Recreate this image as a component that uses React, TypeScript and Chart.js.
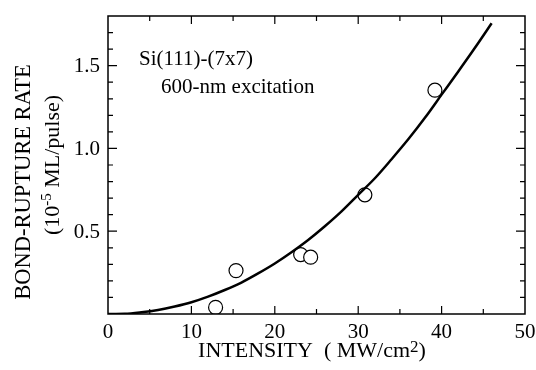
import React, { useEffect, useRef } from "react";
import { Chart, registerables } from "chart.js";

Chart.register(...registerables);

// Measured data points (intensity MW/cm^2, rate 10^-5 ML/pulse)
const pointX = [12.9, 15.35, 23.1, 24.3, 30.8, 39.2];
const pointY = [0.04, 0.262, 0.359, 0.343, 0.72, 1.352];

// Fitted curve
const curveX = [0, 2, 4, 6, 8, 10, 12, 14, 16, 18, 20, 22, 24, 26, 28, 30, 32, 34, 36, 38, 40, 42, 44, 46];
const curveY = [0, 0.001, 0.01, 0.024, 0.045, 0.071, 0.105, 0.145, 0.19, 0.245, 0.305, 0.373, 0.447, 0.53, 0.62, 0.72, 0.82, 0.935, 1.055, 1.185, 1.325, 1.465, 1.608, 1.756];

const xTickLabels = [0, 10, 20, 30, 40, 50];
const yTickLabels = [0.5, 1.0, 1.5];

const annotation1 = "Si(111)-(7x7)";
const annotation2 = "600-nm excitation";
const yTitle1 = "BOND-RUPTURE RATE";
const xTitle = "INTENSITY  ( MW/cm";

const SERIF = "'Liberation Serif', 'Times New Roman', serif";

const framePlugin = {
  id: "frame",
  afterDraw(chart: any) {
    const { ctx, chartArea: a, scales } = chart;
    const xs = scales.x;
    const ys = scales.y;
    ctx.save();
    ctx.strokeStyle = "#000";
    ctx.lineWidth = 1.5;
    ctx.strokeRect(a.left, a.top, a.right - a.left, a.bottom - a.top);
    ctx.lineWidth = 1.2;
    ctx.beginPath();
    for (let v = 5; v < 50; v += 5) {
      const px = xs.getPixelForValue(v);
      const len = v % 10 === 0 ? 8 : 5;
      ctx.moveTo(px, a.bottom);
      ctx.lineTo(px, a.bottom - len);
      ctx.moveTo(px, a.top);
      ctx.lineTo(px, a.top + len);
    }
    for (let i = 1; i < 18; i++) {
      const v = i / 10;
      const py = ys.getPixelForValue(v);
      const len = i % 5 === 0 ? 9 : 5;
      ctx.moveTo(a.left, py);
      ctx.lineTo(a.left + len, py);
      ctx.moveTo(a.right, py);
      ctx.lineTo(a.right - len, py);
    }
    ctx.stroke();

    ctx.fillStyle = "#000";
    // tick labels
    ctx.font = `21px ${SERIF}`;
    ctx.textAlign = "center";
    ctx.textBaseline = "alphabetic";
    for (const v of xTickLabels) {
      ctx.fillText(String(v), xs.getPixelForValue(v), a.bottom + 24);
    }
    ctx.textAlign = "right";
    ctx.textBaseline = "middle";
    for (const v of yTickLabels) {
      ctx.fillText(v.toFixed(1), a.left - 8, ys.getPixelForValue(v) + 1);
    }

    // annotations
    ctx.font = `21px ${SERIF}`;
    ctx.textAlign = "left";
    ctx.textBaseline = "alphabetic";
    ctx.fillText(annotation1, 139, 65);
    ctx.fillText(annotation2, 161, 93);

    // x title with superscript
    ctx.font = `22px ${SERIF}`;
    const w1 = ctx.measureText(xTitle).width;
    ctx.font = `17px ${SERIF}`;
    const w2 = ctx.measureText("2").width;
    ctx.font = `22px ${SERIF}`;
    const w3 = ctx.measureText(")").width;
    const total = w1 + w2 + w3;
    let sx = 312 - total / 2;
    const by = 357;
    ctx.fillText(xTitle, sx, by);
    sx += w1;
    ctx.font = `17px ${SERIF}`;
    ctx.fillText("2", sx, by - 5);
    sx += w2;
    ctx.font = `22px ${SERIF}`;
    ctx.fillText(")", sx, by);

    // y titles (rotated)
    ctx.save();
    ctx.translate(30, 182);
    ctx.rotate(-Math.PI / 2);
    ctx.font = `22.5px ${SERIF}`;
    ctx.textAlign = "center";
    ctx.fillText(yTitle1, 0, 0);
    ctx.restore();

    ctx.save();
    ctx.translate(59, 165);
    ctx.rotate(-Math.PI / 2);
    ctx.textAlign = "left";
    ctx.font = `22px ${SERIF}`;
    const p1 = "(10";
    const p2 = "-5";
    const p3 = " ML/pulse)";
    const a1 = ctx.measureText(p1).width;
    const a3 = ctx.measureText(p3).width;
    ctx.font = `15px ${SERIF}`;
    const a2 = ctx.measureText(p2).width;
    let tx = -(a1 + a2 + a3) / 2;
    ctx.font = `22px ${SERIF}`;
    ctx.fillText(p1, tx, 0);
    tx += a1;
    ctx.font = `15px ${SERIF}`;
    ctx.fillText(p2, tx, -8);
    tx += a2;
    ctx.font = `22px ${SERIF}`;
    ctx.fillText(p3, tx, 0);
    ctx.restore();

    ctx.restore();
  },
};

export default function App() {
  const ref = useRef<HTMLCanvasElement | null>(null);
  useEffect(() => {
    if (!ref.current) return;
    const chart = new Chart(ref.current, {
      type: "scatter",
      data: {
        datasets: [
          {
            label: "fit",
            data: curveX.map((x, i) => ({ x, y: curveY[i] })),
            showLine: true,
            borderColor: "#000",
            borderWidth: 2.5,
            pointRadius: 0,
            cubicInterpolationMode: "monotone",
            fill: false,
          } as any,
          {
            label: "data",
            data: pointX.map((x, i) => ({ x, y: pointY[i] })),
            showLine: false,
            pointRadius: 7,
            pointBackgroundColor: "#fff",
            pointBorderColor: "#000",
            pointBorderWidth: 1.2,
          },
        ],
      },
      options: {
        responsive: false,
        animation: false,
        events: [],
        layout: { padding: { top: 16, right: 11, left: 0, bottom: 0 } },
        plugins: { legend: { display: false }, tooltip: { enabled: false } },
        scales: {
          x: {
            type: "linear",
            min: 0,
            max: 50,
            border: { display: false },
            grid: { display: false, drawTicks: false },
            ticks: { display: false, stepSize: 10 },
            afterFit: (s: any) => {
              s.height = 56;
            },
          },
          y: {
            type: "linear",
            min: 0,
            max: 1.8,
            border: { display: false },
            grid: { display: false, drawTicks: false },
            ticks: { display: false, stepSize: 0.5 },
            afterFit: (s: any) => {
              s.width = 108;
            },
          },
        },
      },
      plugins: [framePlugin],
    });
    return () => chart.destroy();
  }, []);
  return (
    <div style={{ position: "absolute", left: 0, top: 0, width: 536, height: 370, background: "#fff" }}>
      <canvas ref={ref} width={536} height={370} />
    </div>
  );
}
